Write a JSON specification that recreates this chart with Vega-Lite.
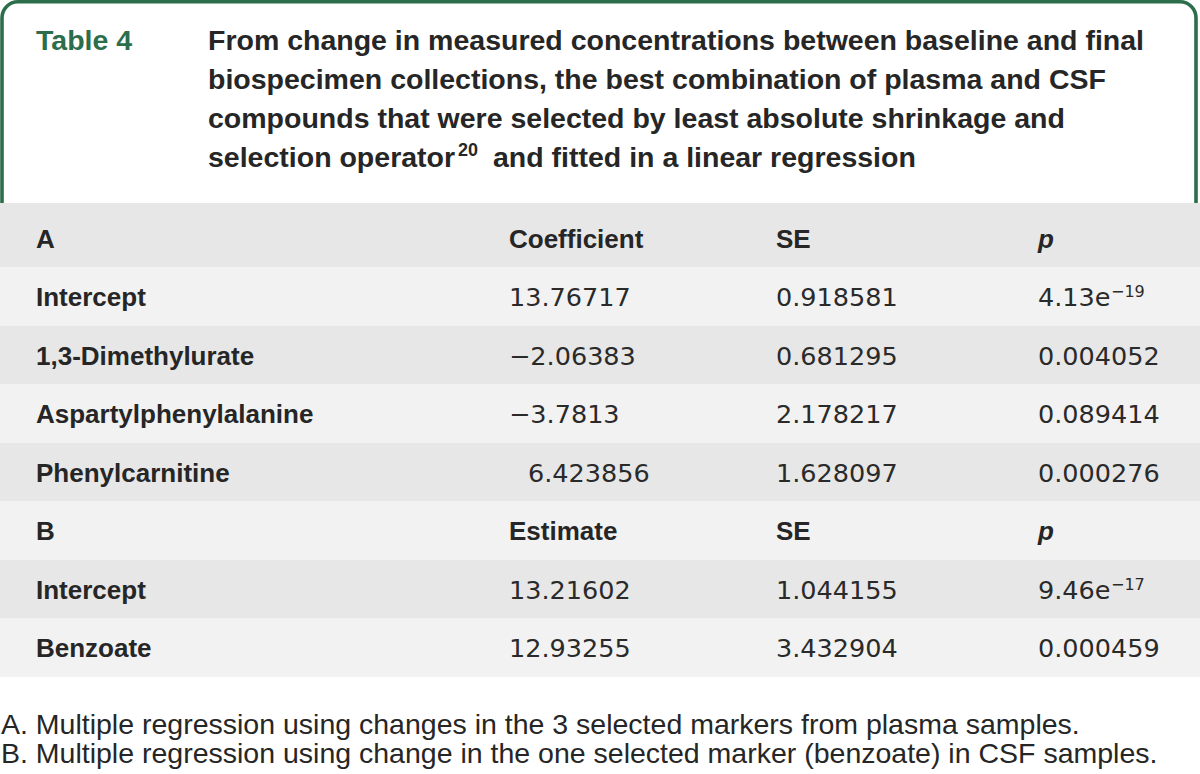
{
  "$schema": "https://vega.github.io/schema/vega-lite/v6.json",
  "width": 1200,
  "height": 774,
  "autosize": {"type": "fit", "contains": "padding"},
  "padding": 0,
  "background": "white",
  "config": {
    "view": {"stroke": null},
    "axis": {"disable": true},
    "text": {"font": "Liberation Sans", "color": "#262626"}
  },
  "datasets": {
    "title": [
      {"line": 2, "text": "From change in measured concentrations between baseline and final"},
      {"line": 3, "text": "biospecimen collections, the best combination of plasma and CSF"},
      {"line": 4, "text": "compounds that were selected by least absolute shrinkage and"},
      {"line": 5, "text": "selection operator"}
    ],
    "notes": [
      {"line": 8, "text": "A. Multiple regression using changes in the 3 selected markers from plasma samples."},
      {"line": 9, "text": "B. Multiple regression using change in the one selected marker (benzoate) in CSF samples."}
    ],
    "table": [
      {"row": 0, "kind": "head", "label": "A", "c1": "Coefficient", "c2": "SE", "c3": "p"},
      {"row": 1, "kind": "body", "label": "Intercept", "c1": "13.76717", "c2": "0.918581", "c3": "4.13e", "sup": "−19"},
      {"row": 2, "kind": "body", "label": "1,3-Dimethylurate", "c1": "−2.06383", "c2": "0.681295", "c3": "0.004052"},
      {"row": 3, "kind": "body", "label": "Aspartylphenylalanine", "c1": "−3.7813", "c2": "2.178217", "c3": "0.089414"},
      {"row": 4, "kind": "body", "label": "Phenylcarnitine", "c1ind": "6.423856", "c2": "1.628097", "c3": "0.000276"},
      {"row": 5, "kind": "head", "label": "B", "c1": "Estimate", "c2": "SE", "c3": "p"},
      {"row": 6, "kind": "body", "label": "Intercept", "c1": "13.21602", "c2": "1.044155", "c3": "9.46e", "sup": "−17"},
      {"row": 7, "kind": "body", "label": "Benzoate", "c1": "12.93255", "c2": "3.432904", "c3": "0.000459"}
    ]
  },
  "resolve": {"scale": {"y": "independent"}},
  "layer": [
    {
      "layer": [
        {
          "data": {"values": [{}]},
          "mark": {"type": "rect", "fill": "white", "stroke": "#2c6e4c", "strokeWidth": 3.6, "cornerRadiusTopLeft": 16, "cornerRadiusTopRight": 16},
          "encoding": {
            "x": {"datum": 0, "type": "quantitative", "axis": null, "scale": {"domain": [-1, 0, 1, 2, 3, 4, 5, 6, 7], "range": [0, 2, 36, 208, 509, 776, 1038, 1196, 1200], "nice": false, "zero": false}},
            "x2": {"datum": 6},
            "y": {"datum": 1, "type": "quantitative", "axis": null, "scale": {"domain": [0, 1, 2, 3, 4, 5, 6, 7, 8, 9, 10], "range": [0, 1.8, 50, 89, 128, 167, 203, 230, 734, 763, 774], "nice": false, "zero": false}},
            "y2": {"datum": 7}
          }
        },
        {
          "data": {"values": [{}]},
          "mark": {"type": "rect", "fill": "#e6e7e6"},
          "encoding": {
            "x": {"datum": -1, "type": "quantitative", "axis": null},
            "x2": {"datum": 7},
            "y": {"datum": 6, "type": "quantitative", "axis": null},
            "y2": {"datum": 7}
          }
        },
        {
          "data": {"values": [{"text": "Table 4"}]},
          "mark": {"type": "text", "align": "left", "baseline": "alphabetic", "fontSize": 28.5, "fontWeight": "bold", "color": "#2c6e4c"},
          "encoding": {
            "x": {"datum": 1, "type": "quantitative", "axis": null},
            "y": {"datum": 2, "type": "quantitative", "axis": null},
            "text": {"field": "text"}
          }
        },
        {
          "data": {"name": "title"},
          "mark": {"type": "text", "align": "left", "baseline": "alphabetic", "fontSize": 28.5, "fontWeight": "bold", "color": "#262626"},
          "encoding": {
            "x": {"datum": 2, "type": "quantitative", "axis": null},
            "y": {"field": "line", "type": "quantitative", "axis": null},
            "text": {"field": "text"}
          }
        },
        {
          "data": {"values": [{"text": "20"}]},
          "mark": {"type": "text", "align": "left", "baseline": "alphabetic", "fontSize": 18, "fontWeight": "bold", "dx": 250, "dy": -11, "color": "#262626"},
          "encoding": {
            "x": {"datum": 2, "type": "quantitative", "axis": null},
            "y": {"datum": 5, "type": "quantitative", "axis": null},
            "text": {"field": "text"}
          }
        },
        {
          "data": {"values": [{"text": "and fitted in a linear regression"}]},
          "mark": {"type": "text", "align": "left", "baseline": "alphabetic", "fontSize": 28.5, "fontWeight": "bold", "dx": 285, "color": "#262626"},
          "encoding": {
            "x": {"datum": 2, "type": "quantitative", "axis": null},
            "y": {"datum": 5, "type": "quantitative", "axis": null},
            "text": {"field": "text"}
          }
        },
        {
          "data": {"name": "notes"},
          "mark": {"type": "text", "align": "left", "baseline": "alphabetic", "fontSize": 28.5, "dx": 1, "color": "#262626"},
          "encoding": {
            "x": {"datum": -1, "type": "quantitative", "axis": null},
            "y": {"field": "line", "type": "quantitative", "axis": null},
            "text": {"field": "text"}
          }
        }
      ]
    },
    {
      "data": {"name": "table"},
      "layer": [
        {
          "mark": {"type": "rect"},
          "encoding": {
            "x": {"datum": -1, "type": "quantitative", "axis": null},
            "x2": {"datum": 7},
            "y": {"field": "row", "type": "ordinal", "axis": null, "scale": {"range": [209, 677], "paddingInner": 0, "paddingOuter": 0}},
            "color": {"condition": {"test": "datum.row % 2 === 0", "value": "#e6e7e6"}, "value": "#f2f2f2"}
          }
        },
        {
          "mark": {"type": "text", "align": "left", "baseline": "alphabetic", "fontSize": 26, "fontWeight": "bold", "dy": 9.5},
          "encoding": {
            "x": {"datum": 1, "type": "quantitative", "axis": null},
            "y": {"field": "row", "type": "ordinal", "axis": null},
            "text": {"field": "label"}
          }
        },
        {
          "transform": [{"filter": "datum.kind === 'head'"}],
          "layer": [
            {
              "mark": {"type": "text", "align": "left", "baseline": "alphabetic", "fontSize": 26, "fontWeight": "bold", "dy": 9.5},
              "encoding": {
                "x": {"datum": 3, "type": "quantitative", "axis": null},
                "y": {"field": "row", "type": "ordinal", "axis": null},
                "text": {"field": "c1"}
              }
            },
            {
              "mark": {"type": "text", "align": "left", "baseline": "alphabetic", "fontSize": 26, "fontWeight": "bold", "dy": 9.5},
              "encoding": {
                "x": {"datum": 4, "type": "quantitative", "axis": null},
                "y": {"field": "row", "type": "ordinal", "axis": null},
                "text": {"field": "c2"}
              }
            },
            {
              "mark": {"type": "text", "align": "left", "baseline": "alphabetic", "fontSize": 26, "fontWeight": "bold", "fontStyle": "italic", "dy": 9.5},
              "encoding": {
                "x": {"datum": 5, "type": "quantitative", "axis": null},
                "y": {"field": "row", "type": "ordinal", "axis": null},
                "text": {"field": "c3"}
              }
            }
          ]
        },
        {
          "transform": [{"filter": "datum.kind === 'body'"}],
          "layer": [
            {
              "transform": [{"filter": "datum.c1"}],
              "mark": {"type": "text", "align": "left", "baseline": "alphabetic", "font": "DejaVu Sans", "fontSize": 25.5, "dy": 9.5, "color": "#2a2a2a"},
              "encoding": {
                "x": {"datum": 3, "type": "quantitative", "axis": null},
                "y": {"field": "row", "type": "ordinal", "axis": null},
                "text": {"field": "c1"}
              }
            },
            {
              "transform": [{"filter": "datum.c1ind"}],
              "mark": {"type": "text", "align": "left", "baseline": "alphabetic", "font": "DejaVu Sans", "fontSize": 25.5, "dx": 19, "dy": 9.5, "color": "#2a2a2a"},
              "encoding": {
                "x": {"datum": 3, "type": "quantitative", "axis": null},
                "y": {"field": "row", "type": "ordinal", "axis": null},
                "text": {"field": "c1ind"}
              }
            },
            {
              "mark": {"type": "text", "align": "left", "baseline": "alphabetic", "font": "DejaVu Sans", "fontSize": 25.5, "dy": 9.5, "color": "#2a2a2a"},
              "encoding": {
                "x": {"datum": 4, "type": "quantitative", "axis": null},
                "y": {"field": "row", "type": "ordinal", "axis": null},
                "text": {"field": "c2"}
              }
            },
            {
              "mark": {"type": "text", "align": "left", "baseline": "alphabetic", "font": "DejaVu Sans", "fontSize": 25.5, "dy": 9.5, "color": "#2a2a2a"},
              "encoding": {
                "x": {"datum": 5, "type": "quantitative", "axis": null},
                "y": {"field": "row", "type": "ordinal", "axis": null},
                "text": {"field": "c3"}
              }
            },
            {
              "transform": [{"filter": "datum.sup"}],
              "mark": {"type": "text", "align": "left", "baseline": "alphabetic", "font": "DejaVu Sans", "fontSize": 16, "dx": 73, "dy": 0.5, "color": "#2a2a2a"},
              "encoding": {
                "x": {"datum": 5, "type": "quantitative", "axis": null},
                "y": {"field": "row", "type": "ordinal", "axis": null},
                "text": {"field": "sup"}
              }
            }
          ]
        }
      ]
    }
  ]
}
